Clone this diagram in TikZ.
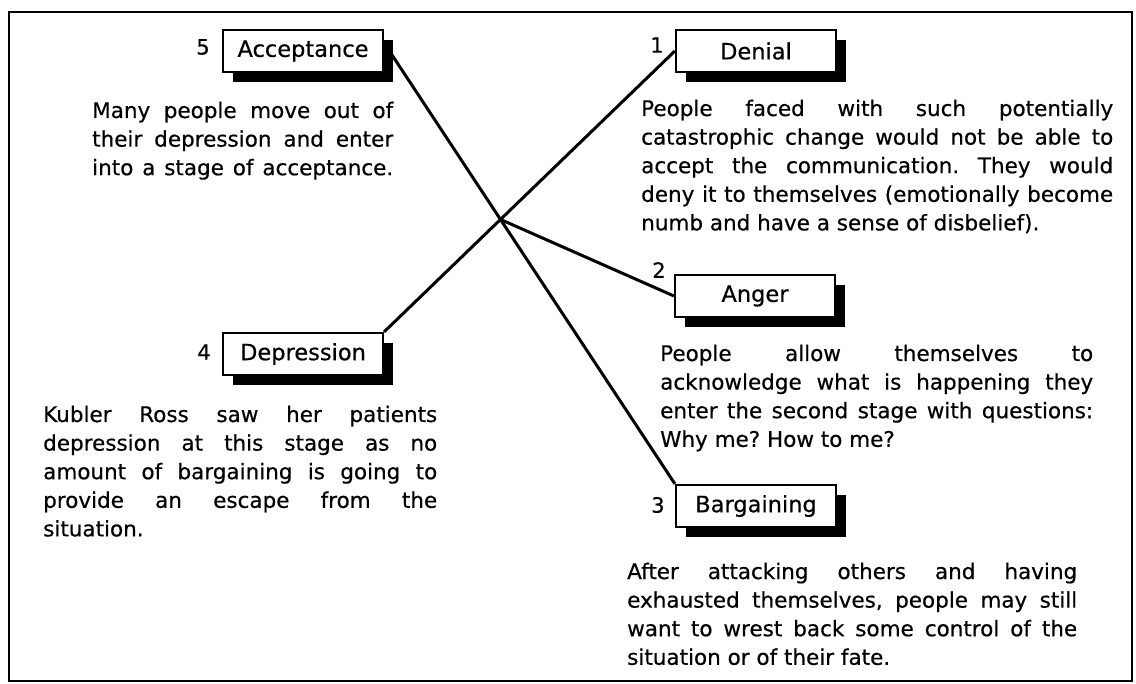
\documentclass[tikz,border=0pt]{standalone}
\usepackage{fontspec}
\setmainfont{DejaVu Sans}[FakeBold=0.5]
\usetikzlibrary{shadows,intersections}
\pgfdeclarelayer{background}
\pgfsetlayers{background,main}
\frenchspacing

% one justified line of a text block
\newcommand{\jline}[1]{\makebox[\linewidth][s]{#1}}
% a block of text whose first baseline sits at the node's position
\newcommand{\txtblock}[2]{\parbox[t]{#1}{\fontsize{21.5}{28.6}\selectfont #2}}

\begin{document}
\begin{tikzpicture}[x=1pt,y=-1pt,
  stage/.style={draw, line width=2.2pt, fill=white, inner sep=0pt,
    minimum width=160pt, minimum height=42pt,
    font=\fontsize{22.5}{26}\selectfont,
    general shadow={fill=black, shadow xshift=10pt, shadow yshift=-10pt}},
  num/.style={font=\fontsize{21}{24}\selectfont, inner sep=0pt},
  body/.style={anchor=base west, inner sep=0pt, align=left},
  link/.style={line width=3pt}]
\useasboundingbox (0,0) rectangle (1136,684);
\draw[line width=2.8pt] (9,12) rectangle (1132,681);

% stage boxes
\node[stage] (acc)  at (303,51)  {Acceptance};
\node[stage] (den)  at (756,51)  {Denial};
\node[stage] (ang)  at (755,296) {Anger};
\node[stage] (dep)  at (303,354) {Depression};
\node[stage] (barg) at (756,506) {Bargaining};

% stage numbers
\node[num] (n5) at (203,47)  {5};
\node[num] (n1) at (657,45)  {1};
\node[num] (n2) at (659,270) {2};
\node[num] (n4) at (204,352) {4};
\node[num] (n3) at (658,505) {3};

% connecting lines, behind the boxes
\coordinate (accout) at ([yshift=8pt]acc.east);
\path[name path=la] (accout) -- (barg.north west);
\path[name path=lb] (dep.north east) -- (den.west);
\path[name intersections={of=la and lb, by=cross}];
\begin{pgfonlayer}{background}
  \draw[link] (accout) -- (barg.north west);
  \draw[link] (dep.north east) -- (den.west);
  \draw[link] (cross) -- (ang.west);
\end{pgfonlayer}

% descriptions
\node[body] (tacc) at (92,118) {\txtblock{301pt}{%
  \jline{Many people move out of}\\
  \jline{their depression and enter}\\
  \jline{into a stage of acceptance.}}};

\node[body] (tden) at (641,116) {\txtblock{472pt}{%
  \jline{People faced with such potentially}\\
  \jline{catastrophic change would not be able to}\\
  \jline{accept the communication. They would}\\
  \jline{deny it to themselves (emotionally become}\\
  numb and have a sense of disbelief).}};

\node[body] (tang) at (660,361) {\txtblock{433pt}{%
  \jline{People allow themselves to}\\
  \jline{acknowledge what is happening they}\\
  \jline{enter the second stage with questions:}\\
  Why me? How to me?}};

\node[body] (tdep) at (43,422) {\txtblock{394pt}{%
  \jline{Kubler Ross saw her patients}\\
  \jline{depression at this stage as no}\\
  \jline{amount of bargaining is going to}\\
  \jline{provide an escape from the}\\
  situation.}};

\node[body] (tbarg) at (627,579) {\txtblock{450pt}{%
  \jline{After attacking others and having}\\
  \jline{exhausted themselves, people may still}\\
  \jline{want to wrest back some control of the}\\
  situation or of their fate.}};
\end{tikzpicture}
\end{document}
